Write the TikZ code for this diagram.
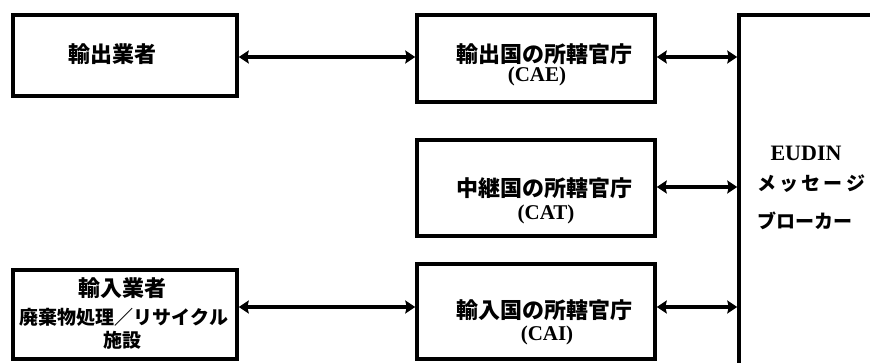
\documentclass[tikz,border=0pt]{standalone}
\usepackage{fontspec}
\setmainfont{Liberation Serif}
\newfontfamily\jp{Noto Sans CJK JP}
\usetikzlibrary{arrows.meta}
\begin{document}
\begin{tikzpicture}[x=1pt,y=-1pt,
  box/.style={draw, line width=3.5pt, inner sep=0pt},
  tip/.tip={Stealth[length=10pt,width=13pt,inset=1.5pt]},
  link/.style={line width=3.2pt, tip-tip},
  jt/.style={font=\jp\bfseries\fontsize{22}{26}\selectfont, inner sep=0pt},
  js/.style={font=\jp\bfseries\fontsize{19}{23}\selectfont, inner sep=0pt},
  lt/.style={font=\bfseries\fontsize{21}{25}\selectfont, inner sep=0pt}]
\useasboundingbox (0,0) rectangle (870,362);
\clip (0,0) rectangle (870,362);
% boxes
\node[box, minimum width=224pt, minimum height=81pt] (A) at (125,55.5) {};
\node[box, minimum width=238pt, minimum height=87pt] (B) at (536,58.5) {};
\node[box, minimum width=238pt, minimum height=96pt] (C) at (536,188) {};
\node[box, minimum width=238pt, minimum height=95pt] (D) at (536,311.5) {};
\node[box, minimum width=224pt, minimum height=89pt] (E) at (125,314.5) {};
\node[box, minimum width=162pt, minimum height=370pt] (M) at (820,200) {};
% texts
\node[jt] (tA) at (112,54) {輸出業者};
\node[jt] (tB1) at (544,54) {輸出国の所轄官庁};
\node[lt] (tB2) at (537,76) {(CAE)};
\node[jt] (tC1) at (544,188) {中継国の所轄官庁};
\node[lt] (tC2) at (546,214) {(CAT)};
\node[jt] (tD1) at (544,310) {輸入国の所轄官庁};
\node[lt] (tD2) at (547,335) {(CAI)};
\node[jt] (tE1) at (122,288) {輸入業者};
\node[js] (tE2) at (124,317) {廃棄物処理／リサイクル};
\node[js] (tE3) at (122,340) {施設};
\node[lt, font=\bfseries\fontsize{22}{26}\selectfont] (tM1) at (806,153) {EUDIN};
\node[js, anchor=west] (tM2) at (757,184) {\makebox[108pt][s]{メ\hfil ッ\hfil セ\hfil ー\hfil ジ}};
\node[js, anchor=west] (tM3) at (757,221) {ブローカー};
% connectors
\draw[link] (A.east |- 0,57) -- (B.west |- 0,57);
\draw[link] (B.east |- 0,57) -- (M.west |- 0,57);
\draw[link] (C.east |- 0,187) -- (M.west |- 0,187);
\draw[link] (D.east |- 0,307) -- (M.west |- 0,307);
\draw[link] (E.east |- 0,307) -- (D.west |- 0,307);
\end{tikzpicture}
\end{document}
